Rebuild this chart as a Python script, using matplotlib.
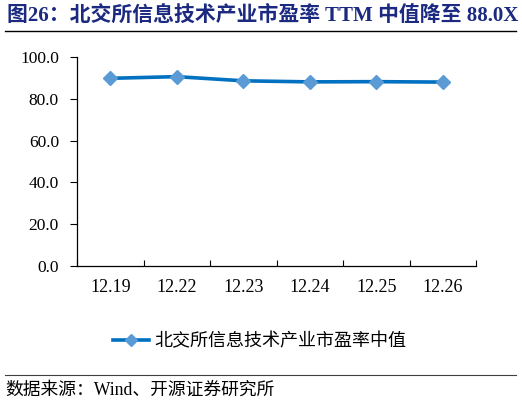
import matplotlib.pyplot as plt
from matplotlib.lines import Line2D

plt.rcParams['font.family'] = ['Liberation Serif', 'Noto Sans CJK SC']

# 数据
dates = ['12.19', '12.22', '12.23', '12.24', '12.25', '12.26']
pe_median = [89.8, 90.6, 88.6, 88.1, 88.2, 88.0]
y_ticks = [0, 20, 40, 60, 80, 100]

title = '图26：北交所信息技术产业市盈率 TTM 中值降至 88.0X'
series_name = '北交所信息技术产业市盈率中值'
source = '数据来源：Wind、开源证券研究所'

W, H = 522, 405
fig = plt.figure(figsize=(W / 100, H / 100), dpi=100)
ax = fig.add_axes([77 / W, 1 - 266 / H, (476 - 77) / W, (266 - 57) / H])

x = list(range(len(dates)))
ax.plot(x, pe_median, color='#0070C0', lw=2.6, marker='D', ms=7,
        markerfacecolor='#5B9BD5', markeredgecolor='#5B9BD5', zorder=3)

ax.set_xlim(-0.5, len(dates) - 0.5)
ax.set_ylim(0, 100)
ax.set_yticks(y_ticks)
ax.set_yticklabels([f'{v:.1f}' for v in y_ticks], fontsize=12.5)
ax.set_xticks([i + 0.5 for i in range(-1, len(dates))])
ax.set_xticklabels([])
ax.set_xticks(x, minor=True)
ax.set_xticklabels(dates, minor=True, fontsize=13)
ax.tick_params(axis='x', which='major', direction='in', length=4, width=0.8)
ax.tick_params(axis='x', which='minor', length=0, pad=9)
ax.tick_params(axis='y', direction='out', length=5, width=0.8, pad=8)
for s in ['top', 'right']:
    ax.spines[s].set_visible(False)
for s in ['left', 'bottom']:
    ax.spines[s].set_linewidth(0.9)

handle = Line2D([], [], color='#0070C0', lw=2.6, marker='D', ms=6,
                markerfacecolor='#5B9BD5', markeredgecolor='#5B9BD5')
fig.legend([handle], [series_name], loc='center', bbox_to_anchor=(260 / W, 1 - 341 / H),
           frameon=False, prop={'family': 'Noto Sans CJK SC', 'size': 13},
           handlelength=2.0, handletextpad=0.3)

# 标题与分隔线
fig.text(7 / W, 1 - 16 / H, title, fontsize=15, fontweight='bold', color='#1B2A80',
         ha='left', va='center')
fig.add_artist(Line2D([5 / W, 516 / W], [1 - 31 / H, 1 - 31 / H], color='black', lw=1.0))
fig.add_artist(Line2D([5 / W, 516 / W], [1 - 375 / H, 1 - 375 / H], color='#404040', lw=0.8))
fig.text(5 / W, 1 - 390 / H, source, fontsize=12.8, ha='left', va='center')

fig.savefig('out.png', dpi=100)
